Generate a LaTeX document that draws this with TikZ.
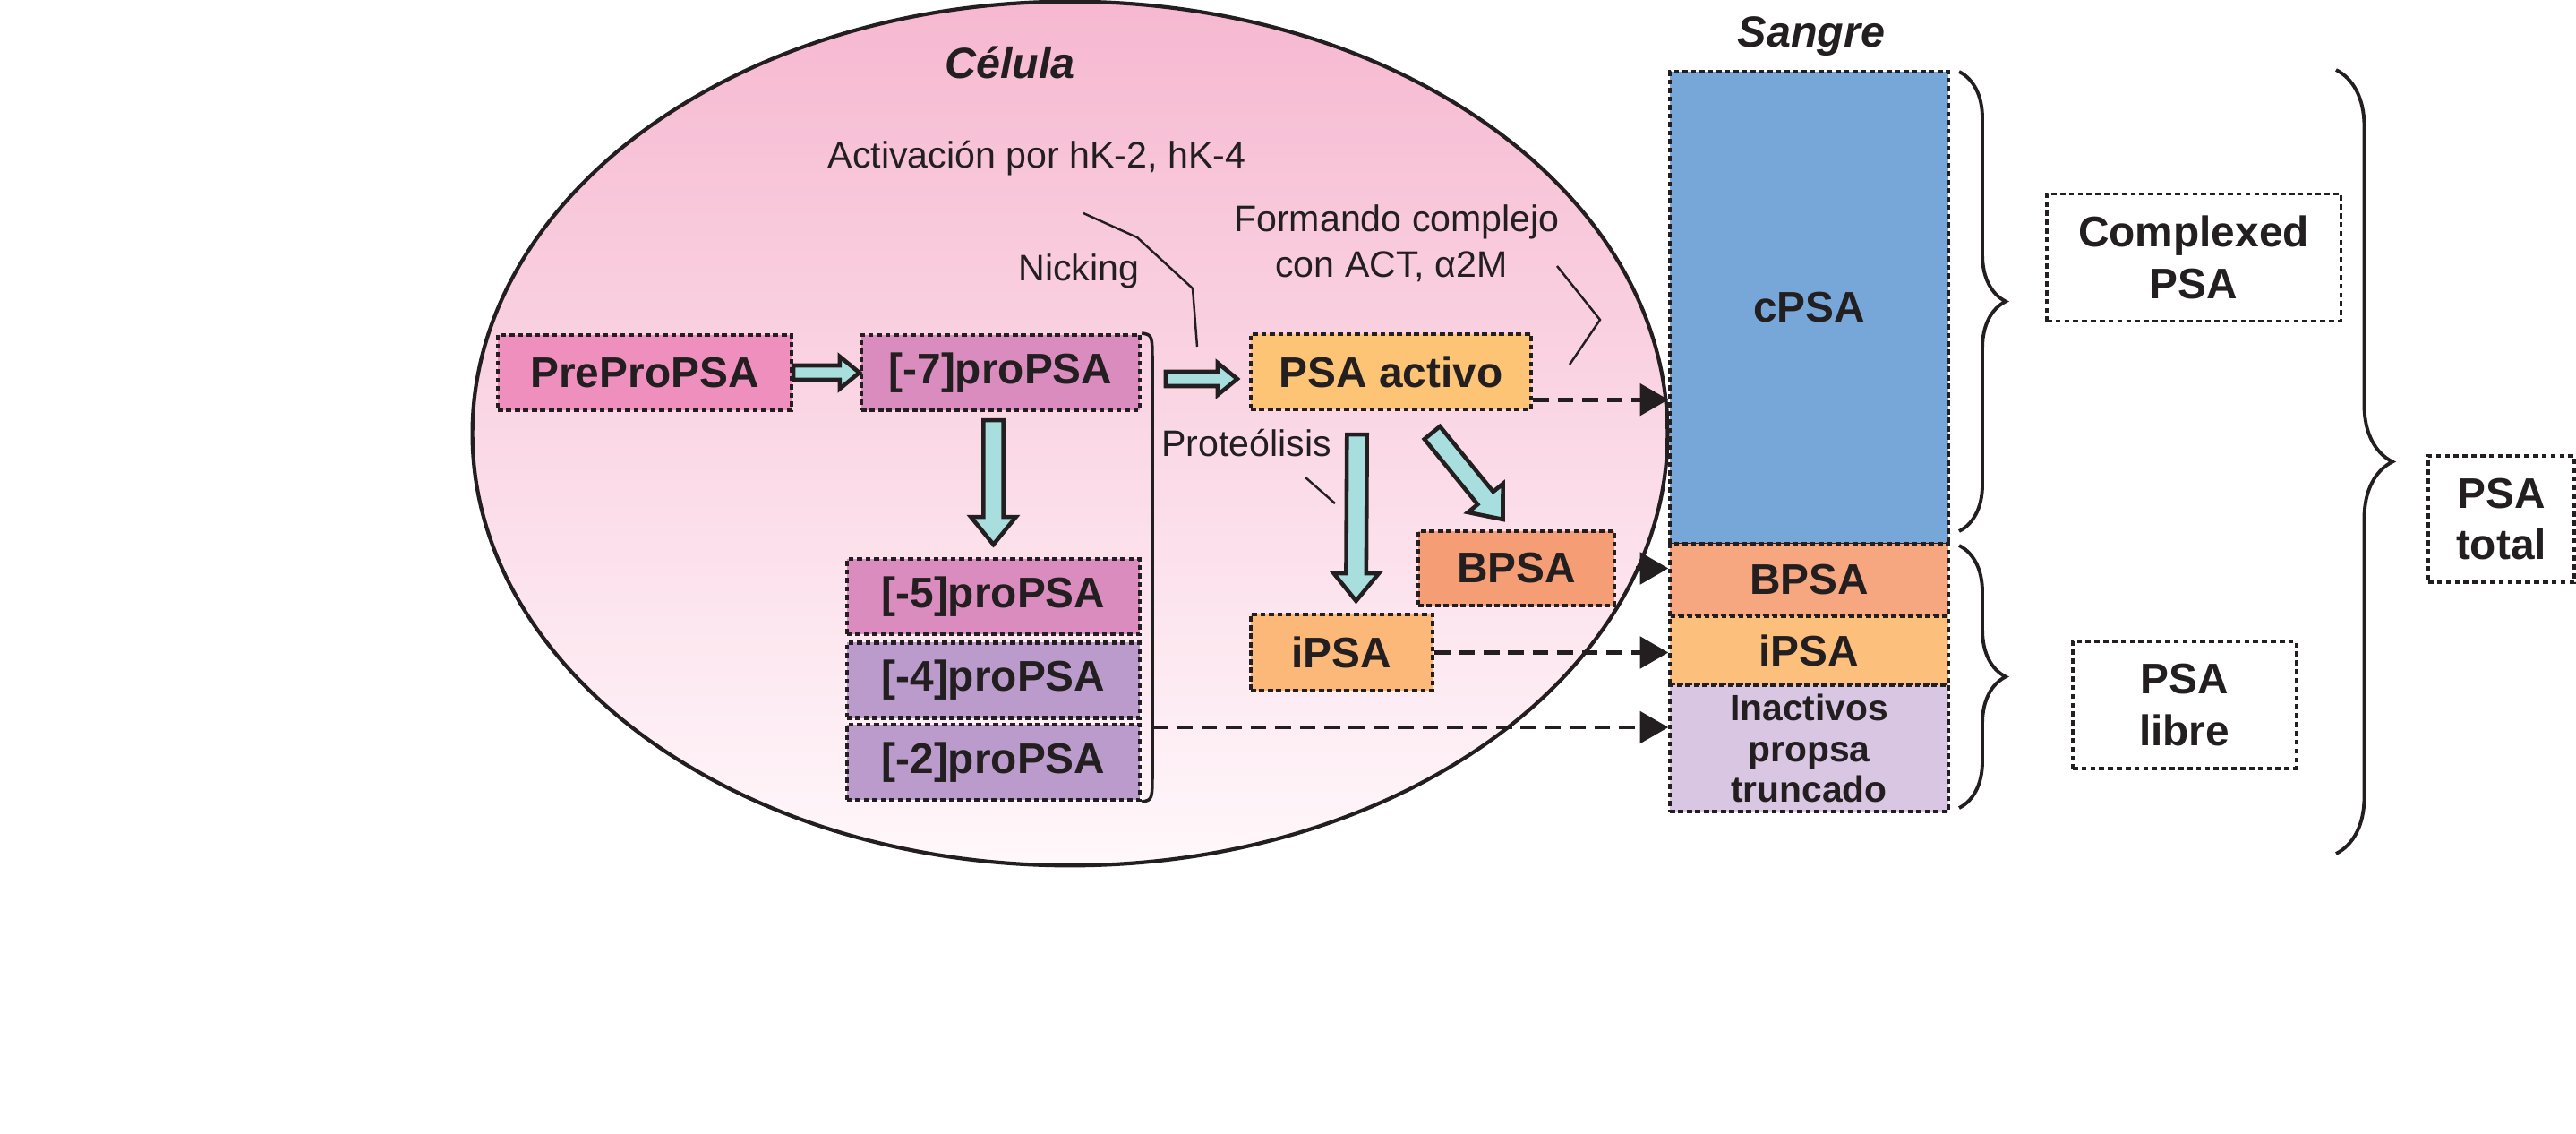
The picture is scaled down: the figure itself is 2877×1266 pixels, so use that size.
\documentclass[tikz,border=0pt]{standalone}
\usepackage{fontspec}
\setmainfont{Liberation Sans}
\usetikzlibrary{arrows.meta,calc,decorations.pathreplacing}

\definecolor{inkblack}{HTML}{231F20}
\definecolor{cellpink}{HTML}{F6B8D0}
\definecolor{cellwhite}{HTML}{FFF8FB}
\definecolor{preprocol}{HTML}{EE8FBD}
\definecolor{procol}{HTML}{DA8CBF}
\definecolor{lilac}{HTML}{BB9BCB}
\definecolor{activocol}{HTML}{FDC475}
\definecolor{ipsacol}{HTML}{FBB878}
\definecolor{ipsablood}{HTML}{FCC07C}
\definecolor{bpsacol}{HTML}{F59D75}
\definecolor{bpsablood}{HTML}{F6A77F}
\definecolor{cpsacol}{HTML}{77A7D9}
\definecolor{inactcol}{HTML}{D9C6E2}
\definecolor{arrowcyan}{HTML}{A9DEDE}

\tikzset{
  cell/.style={draw=inkblack,line width=1.2pt,top color=cellpink,bottom color=cellwhite},
  title/.style={text=inkblack,font=\bfseries\itshape\fontsize{13.8}{16}\selectfont},
  note/.style={text=inkblack,font=\fontsize{11.7}{14}\selectfont,inner sep=0pt},
  psabox/.style={draw=inkblack,line width=1.2pt,dash pattern=on 1.6pt off 1.1pt,
    text=inkblack,font=\bfseries\fontsize{13.6}{16.3}\selectfont,inner sep=0pt,
    minimum height=0.84cm},
  bloodbox/.style={psabox,line width=0.9pt,minimum width=3.11cm,align=center},
  labelbox/.style={draw=inkblack,line width=0.9pt,dash pattern=on 1.6pt off 1.2pt,
    text=inkblack,font=\bfseries\fontsize{13.6}{16.3}\selectfont,inner sep=0pt,
    align=center,minimum height=1.42cm},
  leader/.style={draw=inkblack,line width=0.7pt},
  fatarrow/.style={fill=arrowcyan,draw=inkblack,line width=1.3pt,line join=miter},
  dasharrow/.style={draw=inkblack,line width=1.35pt,dash pattern=on 5pt off 2.8pt,
    -{Triangle[length=9pt,width=10pt]}},
  curly/.style={draw=inkblack,line width=1.1pt,decorate,decoration={brace,amplitude=#1}},
}

\newcommand\fatarrow[3][1]{%
  \coordinate (fat-t) at (#2);
  \coordinate (fat-p) at (#3);
  \coordinate (fat-h) at ($(fat-p)!#1*0.22cm!(fat-t)$);
  \filldraw[fatarrow]
    ($(fat-t)!#1*0.08cm!90:(fat-p)$) -- ($(fat-h)!#1*0.08cm!90:(fat-p)$)
    -- ($(fat-h)!#1*0.18cm!90:(fat-p)$) -- (fat-p)
    -- ($(fat-h)!#1*0.18cm!-90:(fat-p)$) -- ($(fat-h)!#1*0.08cm!-90:(fat-p)$)
    -- ($(fat-t)!#1*0.08cm!-90:(fat-p)$) -- cycle;}

\begin{document}
\begin{tikzpicture}[x=0.01cm,y=-0.01cm]
  \useasboundingbox (0,0) rectangle (2877,1266);
  \draw[cell] (1195,484) ellipse [x radius=6.67cm,y radius=4.82cm];
  \draw
    (1128,87) node[title,anchor=base] (celula){Célula}
    (2023,52) node[title,anchor=base] (sangre){Sangre}
    (1158,187) node[note,anchor=base] (activ){Activación por hK-2, hK-4}
    (1205,313) node[note,anchor=base] (nick){Nicking}
    (1560,258) node[note,anchor=base] (forma){Formando complejo}
    (1554,309) node[note,anchor=base] (formb){con ACT, α2M}
    (1392,509) node[note,anchor=base] (prot){Proteólisis};

  \node[psabox,fill=preprocol,minimum width=3.28cm] (pre) at (720,416) {PreProPSA};
  \node[psabox,fill=procol,minimum width=3.11cm] (m7) at (1117.5,416) {[-7]proPSA};
  \node[psabox,fill=activocol,minimum width=3.13cm] (act) at (1553.5,415) {PSA activo};
  \node[psabox,fill=procol,minimum width=3.27cm] (m5) at (1109.5,666) {[-5]proPSA};
  \node[psabox,fill=lilac,minimum width=3.27cm] (m4) at (1109.5,759.5) {[-4]proPSA};
  \node[psabox,fill=lilac,minimum width=3.27cm] (m2) at (1109.5,851) {[-2]proPSA};
  \node[psabox,fill=bpsacol,minimum width=2.19cm,minimum height=0.83cm] (bpsa) at (1693.5,634.5) {BPSA};
  \node[psabox,fill=ipsacol,minimum width=2.03cm,minimum height=0.85cm] (ipsa) at (1498.5,728.5) {iPSA};

  \node[bloodbox,fill=cpsacol,minimum height=5.27cm] (cpsa) at (2020.5,343.5) {cPSA};
  \node[bloodbox,fill=bpsablood,minimum height=0.81cm] (bpsab) at (2020.5,647.5) {BPSA};
  \node[bloodbox,fill=ipsablood,minimum height=0.77cm] (ipsab) at (2020.5,726.5) {iPSA};
  \node[bloodbox,fill=inactcol,minimum height=1.41cm,font=\bfseries\fontsize{11.6}{13}\selectfont]
    (inact) at (2020.5,835.5) {Inactivos\\propsa\\truncado};

  \node[labelbox,minimum width=3.28cm] (complexed) at (2450,287.5) {Complexed\\PSA};
  \node[labelbox,minimum width=2.49cm] (libre) at (2439.5,787) {PSA\\libre};
  \node[labelbox,minimum width=1.63cm,minimum height=1.41cm] (total) at (2793.5,579.5) {PSA\\total};

  \draw[inkblack,line width=1pt] (m7.north east) .. controls (1287,374) .. (1287,406)
    -- (1287,861) .. controls (1287,893) .. (m2.south east);
  \coordinate (brk) at (1287,812);

  \fatarrow{pre.east}{m7.west}
  \fatarrow{$(brk)+(15,-389)$}{$(act.west)+(-13,8)$}
  \fatarrow[1.4]{$(m7.south)+(-8,9)$}{$(m5.north)+(0,-14)$}
  \fatarrow[1.4]{$(act.south)+(-38,26)$}{$(ipsa.north)+(16,-13)$}
  \fatarrow[1.4]{$(act.south)+(46,24)$}{$(bpsa.north)+(-15,-11)$}

  \coordinate (nick-a) at (1210,238);
  \coordinate (nick-b) at (1337,387);
  \draw[leader] (nick-a) -- (1270,265) -- (1332,322) -- (nick-b);
  \coordinate (forma-a) at (1739,297);
  \coordinate (forma-b) at (1753,407);
  \draw[leader] (forma-a) -- (1787,357) -- (forma-b);
  \coordinate (prot-a) at (1458,533);
  \coordinate (prot-b) at (1491,562);
  \draw[leader] (prot-a) -- (prot-b);

  \coordinate (act-out) at ($(act.south east)+(0,-13)$);
  \draw[dasharrow] (act-out) -- (act-out -| cpsa.west);
  \draw[dasharrow,shorten <=0.22cm] (bpsa.east) -- (bpsa.east -| bpsab.west);
  \draw[dasharrow] (ipsa.east) -- (ipsa.east -| ipsab.west);
  \draw[dasharrow] (brk) -- (brk -| inact.west);

  \draw[curly=0.52cm] (2188,80) -- (2188,593);
  \draw[curly=0.52cm] (2188,609) -- (2188,902);
  \draw[curly=0.63cm] (2609,78) -- (2609,953);
\end{tikzpicture}
\end{document}
